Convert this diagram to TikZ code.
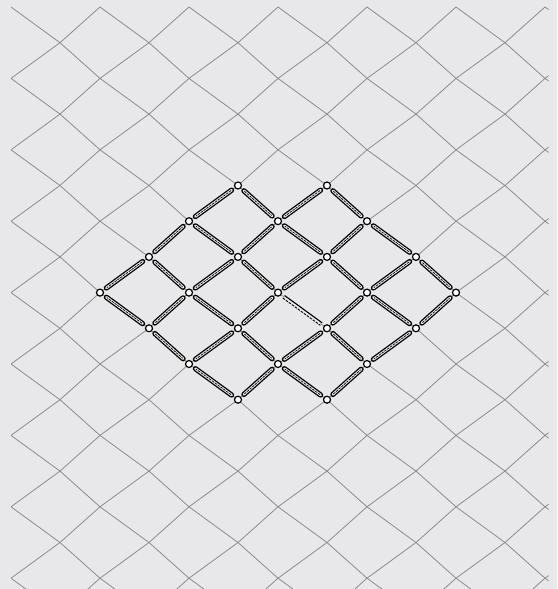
\documentclass[tikz,border=0pt]{standalone}
\definecolor{bgcol}{RGB}{232,232,234}
\definecolor{gridcol}{RGB}{140,140,140}
\pgfdeclarelayer{bglayer}
\pgfdeclarelayer{edgelayer}
\pgfsetlayers{bglayer,edgelayer,main}
\tikzset{
  gridline/.style={draw=gridcol, line width=0.8pt},
  hnode/.style={circle, draw=black, fill=white, line width=1.2pt, inner sep=0pt, minimum size=7pt},
  capsule/.style={draw=black, line width=1.3pt, double=bgcol, double distance=2.6pt, line cap=round, shorten >=3.8pt, shorten <=3.8pt},
  capdash/.style={draw=black, line width=0.7pt, dash pattern=on 2.5pt off 1pt, shorten >=4.5pt, shorten <=4.5pt},
  plainedge/.style={draw=black, line width=1.1pt, shorten >=3pt, shorten <=3pt},
  dashedge/.style={draw=black, line width=0.9pt, dash pattern=on 2.5pt off 1.2pt, shorten >=3pt, shorten <=3pt},
  coveredge/.style={draw=bgcol, line width=2.8pt, shorten >=4pt, shorten <=4pt}
}
\begin{document}
\begin{tikzpicture}[x=1pt,y=-1pt]
\useasboundingbox (0,0) rectangle (557,589);
% lattice points
\foreach \r in {0,2,...,18} \foreach \k in {0,...,7}
  \coordinate (B-\r-\k) at ({11+89*\k},{7+35.7*\r});
\foreach \r in {1,3,...,17} \foreach \k in {0,...,6}
  \coordinate (A-\r-\k) at ({60+89*\k},{7+35.7*\r});
\begin{pgfonlayer}{bglayer}
\fill[bgcol] (0,0) rectangle (557,589);
\begin{scope}
\clip (11,6.6) rectangle (548.5,589);
\foreach \r in {1,3,...,17} {
  \pgfmathtruncatemacro\ru{\r-1}
  \pgfmathtruncatemacro\rd{\r+1}
  \foreach \k in {0,...,6} {
    \pgfmathtruncatemacro\kk{\k+1}
    \draw[gridline] (A-\r-\k) -- (B-\ru-\k);
    \draw[gridline] (A-\r-\k) -- (B-\ru-\kk);
    \draw[gridline] (A-\r-\k) -- (B-\rd-\k);
    \draw[gridline] (A-\r-\k) -- (B-\rd-\kk);
  }
}
\end{scope}
\end{pgfonlayer}
% highlighted nodes
\foreach \p in {5-2,5-3,7-1,7-2,7-3,7-4,9-1,9-2,9-3,9-4,11-2,11-3}
  \node[hnode] (nA-\p) at (A-\p) {};
\foreach \p in {6-2,6-3,6-4,8-1,8-2,8-3,8-4,8-5,10-2,10-3,10-4}
  \node[hnode] (nB-\p) at (B-\p) {};
% highlighted edges
\begin{pgfonlayer}{edgelayer}
\foreach \a/\b in {5-2/6-2,5-2/6-3,5-3/6-3,5-3/6-4,
  7-1/6-2,7-1/8-1,7-1/8-2,
  7-2/6-2,7-2/6-3,7-2/8-2,7-2/8-3,
  7-3/6-3,7-3/6-4,7-3/8-3,7-3/8-4,
  7-4/6-4,7-4/8-4,7-4/8-5,
  9-1/8-1,9-1/8-2,9-1/10-2,
  9-2/8-2,9-2/8-3,9-2/10-2,9-2/10-3,
  9-3/8-4,9-3/10-3,9-3/10-4,
  9-4/8-4,9-4/8-5,9-4/10-4,
  11-2/10-2,11-2/10-3,11-3/10-3,11-3/10-4} {
  \draw[capsule] (nA-\a) -- (nB-\b);
  \draw[capdash] (nA-\a) -- (nB-\b);
}
\draw[coveredge] (nB-8-3) -- (nA-9-3);
\draw[plainedge, transform canvas={shift={(0.9pt,1.25pt)}}] (nB-8-3) -- (nA-9-3);
\draw[dashedge, transform canvas={shift={(-0.9pt,-1.25pt)}}] (nB-8-3) -- (nA-9-3);
\end{pgfonlayer}
\end{tikzpicture}
\end{document}
